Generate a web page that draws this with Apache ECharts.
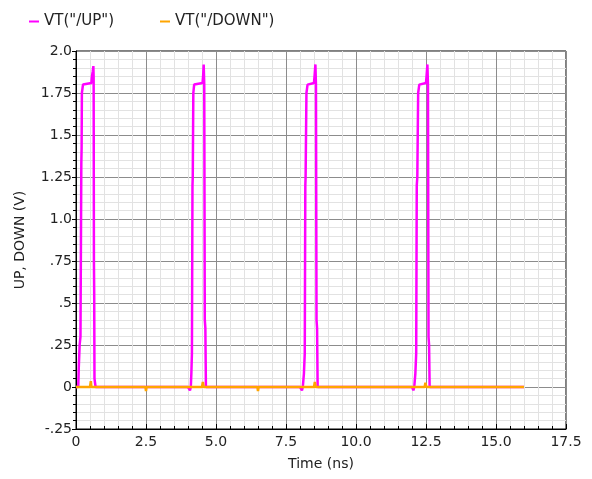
<!DOCTYPE html>
<html>
<head>
<meta charset="utf-8">
<script src="https://cdn.jsdelivr.net/npm/echarts@6/dist/echarts.min.js"></script>
<style>
  html, body { margin: 0; padding: 0; background: #fff; }
  #container { width: 592px; height: 479px; }
</style>
</head>
<body>
<div id="container"></div>
<script>
// waveform samples, time in ns, voltage in V
var upTime = [
  0, 0.05, 0.08, 0.1, 0.13, 0.16, 0.19, 0.2, 0.21, 0.25, 0.3, 0.55, 0.57, 0.6, 0.62, 0.63, 0.64, 0.65, 0.66, 0.7,
  4.0, 4.07, 4.1, 4.12, 4.14, 4.16, 4.17, 4.19, 4.22, 4.28, 4.52, 4.54, 4.56, 4.58, 4.6, 4.62, 4.64, 4.7,
  8.0, 8.07, 8.1, 8.14, 8.17, 8.19, 8.2, 8.23, 8.27, 8.32, 8.5, 8.52, 8.55, 8.57, 8.59, 8.61, 8.63, 8.7,
  12.0, 12.05, 12.08, 12.12, 12.15, 12.17, 12.19, 12.22, 12.26, 12.3, 12.5, 12.52, 12.55, 12.57, 12.59, 12.61, 12.63, 12.7,
  16.0
];
var upVolt = [
  0, -0.01, 0, 0.12, 0.25, 0.3, 1.33, 1.42, 1.75, 1.8, 1.81, 1.81, 1.85, 1.88, 1.91, 1.85, 0.75, 0.55, 0.05, 0,
  0, -0.02, 0, 0.08, 0.2, 1.2, 1.25, 1.75, 1.8, 1.81, 1.81, 1.85, 1.92, 1.8, 0.4, 0.35, 0, 0,
  0, -0.02, 0, 0.08, 0.2, 1.2, 1.25, 1.75, 1.8, 1.81, 1.81, 1.85, 1.92, 1.8, 0.4, 0.35, 0, 0,
  0, -0.02, 0, 0.08, 0.2, 1.2, 1.25, 1.75, 1.8, 1.81, 1.81, 1.85, 1.92, 1.8, 0.3, 0.25, 0, 0,
  0
];
var downTime = [0, 0.5, 0.53, 0.55, 0.57, 0.6, 2.48, 2.5, 2.52, 4.5, 4.53, 4.56, 4.6, 6.48, 6.5, 6.52,
  8.5, 8.53, 8.56, 8.6, 12.45, 12.48, 12.51, 12.55, 16.0];
var downVolt = [0, 0, 0.035, 0.0, -0.01, 0, 0, -0.025, 0, 0, 0.03, 0, 0, 0, -0.025, 0,
  0, 0.03, 0, 0, 0, 0.025, 0, 0, 0];

var xTickLabels = ['0', '2.5', '5.0', '7.5', '10.0', '12.5', '15.0', '17.5'];
var yTickLabels = ['-.25', '0', '.25', '.5', '.75', '1.0', '1.25', '1.5', '1.75', '2.0'];

function pairs(t, v) {
  return t.map(function (x, i) { return [x, v[i]]; });
}

var chartDom = document.getElementById('container');
var myChart = echarts.init(chartDom);
var font = 'DejaVu Sans';

var option = {
  animation: false,
  textStyle: { fontFamily: font },
  legend: {
    left: 24,
    top: 9,
    itemWidth: 10,
    itemHeight: 2,
    itemGap: 46,
    icon: 'rect',
    textStyle: { fontFamily: font, fontSize: 15, color: '#222' },
    data: ['VT("/UP")', 'VT("/DOWN")']
  },
  grid: {
    left: 76, right: 26, top: 51, bottom: 50,
    show: true, borderColor: '#000', borderWidth: 1
  },
  xAxis: {
    type: 'value',
    min: 0, max: 17.5, interval: 2.5,
    name: 'Time (ns)',
    nameLocation: 'middle',
    nameGap: 28,
    nameTextStyle: { fontFamily: font, fontSize: 14, color: '#222' },
    axisLine: { onZero: false, lineStyle: { color: '#000' } },
    axisTick: { inside: true, length: 5, lineStyle: { color: '#000' } },
    minorTick: { show: true, splitNumber: 5, length: 3, lineStyle: { color: '#000' } },
    axisLabel: {
      fontFamily: font, fontSize: 14, color: '#222', margin: 6,
      formatter: function (v) { return xTickLabels[Math.round(v / 2.5)]; }
    },
    splitLine: { show: true, lineStyle: { color: '#8c8c8c', width: 1 } },
    minorSplitLine: { show: true, lineStyle: { color: '#e2e2e2', width: 1 } }
  },
  yAxis: {
    type: 'value',
    min: -0.25, max: 2.0, interval: 0.25,
    name: 'UP, DOWN (V)',
    nameLocation: 'middle',
    nameGap: 49,
    nameTextStyle: { fontFamily: font, fontSize: 14, color: '#222' },
    axisLine: { show: true, lineStyle: { color: '#000' } },
    axisTick: { show: true, length: 4, lineStyle: { color: '#000' } },
    minorTick: { show: true, splitNumber: 5, length: 3, lineStyle: { color: '#000' } },
    axisLabel: {
      fontFamily: font, fontSize: 14, color: '#222', margin: 4,
      formatter: function (v) { return yTickLabels[Math.round((v + 0.25) / 0.25)]; }
    },
    splitLine: { show: true, lineStyle: { color: '#8c8c8c', width: 1 } },
    minorSplitLine: { show: true, lineStyle: { color: '#e2e2e2', width: 1 } }
  },
  series: [
    {
      name: 'VT("/UP")',
      type: 'line',
      showSymbol: false,
      color: '#ff00ff',
      lineStyle: { width: 2.5 },
      data: pairs(upTime, upVolt)
    },
    {
      name: 'VT("/DOWN")',
      type: 'line',
      showSymbol: false,
      color: '#ffa500',
      lineStyle: { width: 2.5 },
      data: pairs(downTime, downVolt)
    }
  ]
};

option && myChart.setOption(option);
</script>
</body>
</html>
